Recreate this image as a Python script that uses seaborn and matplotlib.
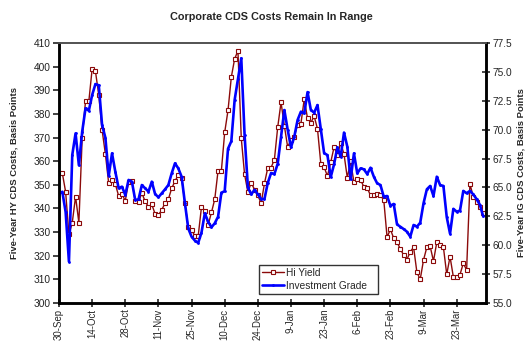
import matplotlib
matplotlib.use("Agg")
import matplotlib.pyplot as plt
import seaborn as sns
import pandas as pd
import numpy as np

# Five-year CDS costs, one value per trading day (basis points)
hy_yield = [
    355, 355, 347, 329, 334, 345, 334, 370, 385.3, 385.3,
    399, 398, 388, 373.2, 363, 350.6, 352, 350.3, 345.3, 346.1,
    343.2, 351.3, 351.6, 343.2, 342.8, 346.5, 343.0, 340.7, 341.7, 337.7,
    337.2, 339.4, 342.2, 343.9, 348.5, 351.5, 354.3, 353.0, 342.2, 332,
    331, 328.3, 328.3, 340.7, 339.1, 333, 338.3, 343.9, 356, 356,
    372.2, 381.5, 395.6, 403.3, 406.7, 369.7, 354.4, 346.9, 350.9, 348,
    345.5, 342.2, 350.6, 357.2, 357.3, 360.7, 374.4, 384.9, 375, 366,
    369, 370.4, 375.5, 375.9, 386.2, 378.1, 376.3, 379, 373.7, 359,
    357.5, 353.7, 359.6, 365.9, 362.8, 367.6, 363, 353, 360, 351,
    352.3, 352, 349.2, 348.7, 345.5, 345.7, 346, 345.5, 343.6, 327.8,
    331.2, 327.4, 325.8, 322.8, 320.3, 318.4, 321.7, 323.6, 313, 310,
    318.2, 323.6, 324, 317.7, 325.7, 324.6, 323.6, 312.1, 319.6, 311,
    311, 312, 316.8, 314, 350.4, 345, 342.9, 340.8, 338,
]
ig_grade = [
    64.43, 64.63, 62.88, 58.58, 67.81, 69.68, 66.92, 69.83, 71.85, 71.64,
    73.0, 73.95, 73.84, 70.4, 69.3, 66.0, 67.95, 66.36, 64.93, 65.07,
    64.35, 65.65, 65.5, 63.91, 63.97, 65.21, 64.92, 64.64, 65.5, 64.43,
    64.15, 64.49, 64.84, 65.21, 66.22, 67.09, 66.65, 65.93, 63.63, 61.46,
    60.74, 60.4, 60.2, 61.1, 62.76, 62.04, 61.55, 61.9, 62.47, 64.55,
    64.67, 68.35, 69.0, 72.57, 74.36, 76.18, 69.54, 65.0, 64.4, 64.8,
    64.4, 64.0, 64.0, 65.4, 66.25, 66.16, 67.06, 69.39, 71.7, 70.0,
    68.47, 69.39, 70.84, 71.56, 71.41, 73.25, 71.7, 71.47, 72.13, 70.05,
    67.97, 67.8, 65.9, 67.0, 68.47, 67.66, 69.75, 68.53, 65.7, 67.95,
    66.22, 66.65, 66.57, 66.16, 66.71, 65.93, 65.36, 65.21, 64.2, 64.26,
    63.42, 63.57, 61.8, 61.6, 61.4, 61.17, 60.74, 61.75, 61.6, 61.95,
    63.63, 64.84, 65.13, 64.26, 65.93, 65.21, 65.13, 62.44, 61.0, 63.15,
    62.9, 63.0, 64.7, 64.5, 64.7, 64.4, 64.0, 63.5, 62.5,
]
date_labels = ["30-Sep", "14-Oct", "28-Oct", "11-Nov", "25-Nov", "10-Dec",
               "24-Dec", "9-Jan", "23-Jan", "6-Feb", "23-Feb", "9-Mar", "23-Mar"]

df = pd.DataFrame({"day": np.arange(len(hy_yield)),
                   "hy": hy_yield, "ig": ig_grade})

sns.set_style("white")
plt.rcParams["font.family"] = ["Liberation Sans", "DejaVu Sans"]

fig = plt.figure(figsize=(5.26, 3.41), dpi=100)
ax = fig.add_axes([59 / 526, 1 - 303 / 341, 427 / 526, 260 / 341])
ax2 = ax.twinx()

red = "#8b0a0a"
blue = "#0000ff"

sns.lineplot(data=df, x="day", y="hy", ax=ax, color=red, lw=1.0,
             marker="s", markersize=3, markerfacecolor="white",
             markeredgecolor=red, markeredgewidth=0.8, label="Hi Yield",
             legend=False)
sns.lineplot(data=df, x="day", y="ig", ax=ax2, color=blue, lw=1.9,
             marker="o", markersize=2, markeredgewidth=0,
             label="Investment Grade", legend=False)

ax.set_xlim(0, 128.85)
ax.set_ylim(300, 410)
ax2.set_ylim(55, 77.5)
ax.set_yticks(np.arange(300, 411, 10))
ax2.set_yticks(np.arange(55, 77.6, 2.5))
ax2.set_yticklabels([f"{v:.1f}" for v in np.arange(55, 77.6, 2.5)])
ax.set_xticks(np.arange(0, 121, 10))
ax.set_xticklabels(date_labels, rotation=90)

ax.set_xlabel("")
ax.set_ylabel("Five-Year HY CDS Costs, Basis Points", fontsize=6.8,
              fontweight="bold", labelpad=11)
ax2.set_ylabel("Five-Year IG CDS Costs, Basis Points", fontsize=6.8,
               fontweight="bold", labelpad=3)

ax.tick_params(axis="y", direction="out", length=4, width=1.2,
               labelsize=7.3, left=True, pad=2, colors="#222222")
ax.tick_params(axis="x", direction="inout", length=6, width=1.2,
               labelsize=6.9, bottom=True, pad=1)
ax2.tick_params(axis="y", direction="inout", length=6, width=1.2,
                labelsize=7.3, right=True, pad=1.5)

for a in (ax, ax2):
    for side in ("left", "bottom", "right"):
        a.spines[side].set_color("black")
        a.spines[side].set_linewidth(1.8)
    a.spines["top"].set_color("#555555")
    a.spines["top"].set_linewidth(1.3)

fig.suptitle("Corporate CDS Costs Remain In Range", x=0.515, y=0.965,
             fontsize=7.8, fontweight="bold")

handles = ax.get_lines()[:1] + ax2.get_lines()[:1]
leg = ax2.legend(handles, ["Hi Yield", "Investment Grade"],
                 loc="lower left", bbox_to_anchor=(0.468, 0.035, 0.279, 0.103),
                 mode="expand", fontsize=7.3, frameon=True, fancybox=False,
                 borderpad=0.3, handlelength=2.2, handletextpad=0.2,
                 labelspacing=0.3, borderaxespad=0)
leg.get_frame().set_edgecolor("black")
leg.get_frame().set_linewidth(1.0)

fig.savefig("out.png", dpi=100)
